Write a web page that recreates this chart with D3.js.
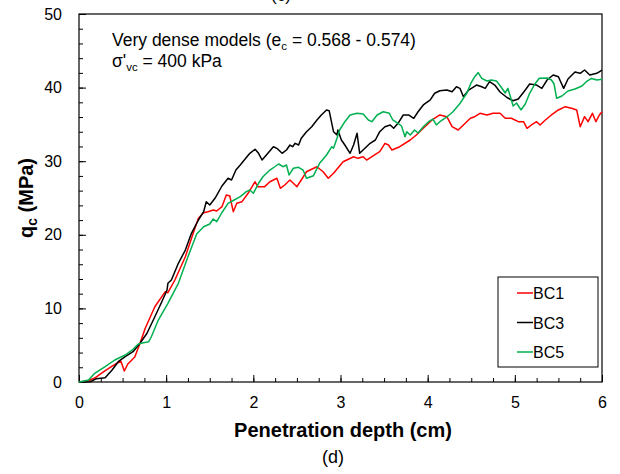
<!DOCTYPE html>
<html>
<head>
<meta charset="utf-8">
<script src="https://cdn.jsdelivr.net/npm/d3@7"></script>
<style>
  body { margin:0; background:#fff; }
  text { font-family: Arial, "Liberation Sans", sans-serif; }
</style>
</head>
<body>
<div id="canvas"></div>
<script>
// data: penetration depth (cm), q_c (MPa)
var bc1 = [[0,0],[0.10,0.14],[0.18,0.54],[0.28,1.36],[0.38,2.17],[0.48,2.85],[0.52,1.49],[0.56,2.45],[0.64,3.40],
  [0.70,5.26],[0.76,7.30],[0.87,10.23],[0.99,12.27],[1.02,12.13],[1.10,13.86],[1.22,17.02],[1.31,20.20],[1.37,22.24],
  [1.43,23.00],[1.48,23.14],[1.54,23.37],[1.58,23.23],[1.64,23.82],[1.69,25.41],[1.73,25.27],[1.77,23.14],[1.81,24.28],
  [1.87,24.50],[1.94,25.64],[2.02,27.21],[2.05,26.54],[2.13,26.54],[2.19,27.21],[2.27,27.68],[2.31,26.32],[2.36,26.77],
  [2.42,27.45],[2.50,26.54],[2.55,27.45],[2.61,28.57],[2.65,28.80],[2.73,29.25],[2.80,28.57],[2.86,27.68],[2.92,28.36],
  [3.03,29.93],[3.15,30.61],[3.20,30.39],[3.26,30.61],[3.30,30.16],[3.36,30.61],[3.45,31.29],[3.51,32.43],[3.55,32.20],
  [3.59,31.52],[3.68,31.97],[3.80,32.88],[3.87,33.56],[3.95,34.47],[4.05,35.60],[4.14,36.28],[4.22,36.05],[4.28,34.69],
  [4.35,34.24],[4.41,34.92],[4.49,35.83],[4.54,36.05],[4.60,36.51],[4.68,36.28],[4.75,36.51],[4.83,36.51],[4.89,35.83],
  [4.96,35.83],[5.04,35.37],[5.10,35.37],[5.14,34.47],[5.19,34.92],[5.25,35.37],[5.29,34.92],[5.35,35.60],[5.42,36.28],
  [5.50,36.96],[5.58,37.41],[5.65,37.19],[5.71,36.96],[5.75,34.69],[5.80,36.05],[5.84,35.37],[5.89,36.51],[5.93,35.37],
  [5.97,36.28],[6.00,36.72]];

var bc3 = [[0,0],[0.13,0.04],[0.20,0.45],[0.30,0.58],[0.38,1.63],[0.45,2.76],[0.53,3.44],[0.62,4.12],[0.70,5.26],
  [0.78,6.62],[0.87,8.87],[0.95,10.91],[1.01,12.50],[1.02,13.41],[1.06,13.86],[1.14,16.13],[1.22,17.93],[1.29,20.20],
  [1.37,22.01],[1.43,23.14],[1.46,24.50],[1.50,24.05],[1.56,24.96],[1.64,26.63],[1.71,27.68],[1.75,27.45],[1.80,28.80],
  [1.85,29.48],[1.88,29.93],[1.96,31.07],[2.02,31.62],[2.06,31.07],[2.10,30.16],[2.15,30.84],[2.23,31.97],[2.27,31.75],
  [2.33,31.07],[2.38,31.52],[2.42,32.20],[2.45,31.97],[2.48,32.43],[2.52,32.20],[2.55,33.11],[2.61,34.01],[2.67,34.69],
  [2.73,35.60],[2.78,36.28],[2.84,36.96],[2.87,36.86],[2.90,35.15],[2.92,34.01],[2.96,33.56],[2.97,34.24],[3.01,32.88],
  [3.05,32.20],[3.11,31.07],[3.15,32.20],[3.19,33.79],[3.22,31.07],[3.28,31.75],[3.34,32.43],[3.40,32.88],[3.45,34.01],
  [3.51,34.69],[3.57,34.92],[3.61,34.47],[3.66,35.15],[3.72,36.28],[3.78,36.28],[3.84,35.83],[3.89,36.72],[3.95,37.64],
  [4.03,38.32],[4.08,39.23],[4.14,39.57],[4.22,39.67],[4.28,39.44],[4.33,40.12],[4.37,39.90],[4.41,38.76],[4.47,39.67],
  [4.56,40.35],[4.62,40.12],[4.66,39.90],[4.71,40.80],[4.77,40.35],[4.83,39.40],[4.91,38.65],[4.98,38.21],[5.04,38.45],
  [5.12,39.67],[5.17,40.49],[5.25,40.35],[5.31,39.90],[5.37,41.03],[5.44,41.71],[5.50,41.48],[5.56,39.90],[5.61,41.17],
  [5.69,42.12],[5.75,41.94],[5.80,42.39],[5.86,41.71],[5.94,41.94],[6.00,42.39]];

var bc5 = [[0,0],[0.11,0.27],[0.18,1.18],[0.30,2.08],[0.41,2.99],[0.53,3.67],[0.62,4.44],[0.68,5.16],[0.74,5.34],
  [0.80,5.48],[0.83,6.15],[0.91,8.42],[1.02,10.69],[1.14,13.41],[1.25,17.02],[1.35,20.11],[1.43,21.10],[1.50,21.47],
  [1.54,22.15],[1.58,21.78],[1.64,23.03],[1.71,24.28],[1.78,24.73],[1.85,25.18],[1.92,25.86],[1.96,26.09],[2.00,25.64],
  [2.06,27.00],[2.11,27.89],[2.19,28.80],[2.25,29.28],[2.29,29.62],[2.34,29.25],[2.38,29.48],[2.41,28.13],[2.46,29.04],
  [2.52,29.17],[2.57,28.80],[2.61,27.68],[2.69,28.03],[2.76,29.71],[2.84,30.84],[2.90,31.97],[2.92,31.75],[2.96,33.11],
  [2.99,34.24],[3.05,35.37],[3.11,36.28],[3.19,36.51],[3.26,36.41],[3.32,35.60],[3.36,35.37],[3.42,36.28],[3.49,36.72],
  [3.56,36.51],[3.60,35.60],[3.66,35.15],[3.70,34.78],[3.74,33.33],[3.76,34.01],[3.80,33.56],[3.85,34.24],[3.89,33.83],
  [3.95,34.69],[4.01,35.37],[4.06,35.73],[4.10,34.92],[4.14,35.37],[4.22,36.01],[4.29,36.72],[4.37,37.84],[4.45,39.27],
  [4.50,40.69],[4.54,41.48],[4.58,42.05],[4.62,41.26],[4.68,40.90],[4.73,41.03],[4.79,40.90],[4.85,39.95],[4.89,39.27],
  [4.92,39.90],[4.95,38.72],[4.98,37.50],[5.02,37.91],[5.07,36.96],[5.12,37.77],[5.17,39.23],[5.23,40.49],[5.28,41.26],
  [5.37,41.30],[5.42,41.03],[5.45,40.49],[5.48,38.55],[5.54,38.86],[5.61,39.54],[5.69,39.81],[5.77,40.22],[5.82,40.80],
  [5.88,41.24],[5.94,41.03],[6.00,41.13]];

var seriesNames = ['BC1','BC3','BC5'];
var seriesColors = ['#ff0000','#000000','#00b050'];
var xTicks = [0,1,2,3,4,5,6];
var yTicks = [0,10,20,30,40,50];

var W = 620, H = 474;
var m = {t:14, r:18, b:92, l:79};
var w = W - m.l - m.r, h = H - m.t - m.b;

var svg = d3.select('#canvas').append('svg')
  .attr('width', W).attr('height', H);

var plot = svg.append('g')
  .attr('transform', 'translate(' + m.l + ',' + m.t + ')');

var x = d3.scaleLinear().domain([0,6]).range([0,w]);
var y = d3.scaleLinear().domain([0,50]).range([h,0]);

// minor ticks (inward)
plot.append('g').attr('transform','translate(0,' + h + ')')
  .call(d3.axisBottom(x).tickValues(d3.range(0,6.01,0.25)).tickSize(-4).tickFormat(''))
  .call(function(g){ g.select('.domain').remove(); });
plot.append('g')
  .call(d3.axisLeft(y).tickValues(d3.range(0,50.1,2)).tickSize(-4).tickFormat(''))
  .call(function(g){ g.select('.domain').remove(); });

// major ticks with labels
var xAxis = plot.append('g').attr('transform','translate(0,' + h + ')')
  .call(d3.axisBottom(x).tickValues(xTicks).tickSize(-7).tickPadding(15).tickFormat(d3.format('d')));
xAxis.select('.domain').remove();
xAxis.selectAll('text').attr('font-size', 16).attr('font-family','Arial, Liberation Sans, sans-serif').attr('fill','#000');

var yAxis = plot.append('g')
  .call(d3.axisLeft(y).tickValues(yTicks).tickSize(-7).tickPadding(17).tickFormat(d3.format('d')));
yAxis.select('.domain').remove();
yAxis.selectAll('text').attr('font-size', 16).attr('font-family','Arial, Liberation Sans, sans-serif').attr('fill','#000');

plot.selectAll('.tick line').attr('stroke','#000').attr('stroke-width',1);

// frame
plot.append('rect').attr('x',0).attr('y',0).attr('width',w).attr('height',h)
  .attr('fill','none').attr('stroke','#000').attr('stroke-width',1.2);

// curves
var line = d3.line().x(function(d){return x(d[0]);}).y(function(d){return y(d[1]);});
var allSeries = [bc1, bc3, bc5];
plot.selectAll('path.curve')
  .data(allSeries)
  .enter().append('path')
  .attr('class','curve')
  .attr('d', line)
  .attr('fill','none')
  .attr('stroke', function(d,i){return seriesColors[i];})
  .attr('stroke-width',1.5)
  .attr('stroke-linejoin','round');

// annotation
var ann = plot.append('text').attr('x', 33).attr('y', 32).attr('font-size',17.5);
ann.append('tspan').text('Very dense models (e');
ann.append('tspan').attr('font-size',11.5).attr('dy',4).text('c');
ann.append('tspan').attr('dy',-4).text(' = 0.568 - 0.574)');

var ann2 = plot.append('text').attr('x', 33).attr('y', 53).attr('font-size',17.5);
ann2.append('tspan').text('\u03c3\'');
ann2.append('tspan').attr('font-size',11.5).attr('dy',4).text('vc');
ann2.append('tspan').attr('dy',-4).text(' = 400 kPa');

// legend
var lg = plot.append('g').attr('transform','translate(' + (498 - m.l) + ',' + (277 - m.t) + ')');
lg.append('rect').attr('width',100).attr('height',90)
  .attr('fill','#fff').attr('stroke','#000').attr('stroke-width',1);
var items = lg.selectAll('g.item').data(seriesNames).enter().append('g')
  .attr('transform', function(d,i){ return 'translate(0,' + (16 + i*29.5) + ')'; });
items.append('line').attr('x1',19).attr('x2',35).attr('y1',0).attr('y2',0)
  .attr('stroke', function(d,i){return seriesColors[i];}).attr('stroke-width',1.5);
items.append('text').attr('x',35).attr('y',6).attr('font-size',16).text(function(d){return d;});

// axis titles
var yt = svg.append('text')
  .attr('transform','translate(33,' + (m.t + h/2) + ') rotate(-90)')
  .attr('text-anchor','middle').attr('font-size',20).attr('font-weight','bold');
yt.append('tspan').text('q');
yt.append('tspan').attr('font-size',14).attr('dy',4).text('c');
yt.append('tspan').attr('dy',-4).text(' (MPa)');

svg.append('text').attr('x', 343).attr('y', 437)
  .attr('text-anchor','middle').attr('font-size',20).attr('font-weight','bold')
  .text('Penetration depth (cm)');

svg.append('text').attr('x', 333).attr('y', 463)
  .attr('text-anchor','middle').attr('font-size',18)
  .attr('font-family','"Times New Roman", "Liberation Serif", serif')
  .text('(d)');

// caption of the chart above, cut by the top edge
svg.append('text').attr('x', 281).attr('y', 1)
  .attr('text-anchor','middle').attr('font-size',17)
  .attr('font-family','"Times New Roman", "Liberation Serif", serif')
  .text('(c)');
</script>
</body>
</html>
